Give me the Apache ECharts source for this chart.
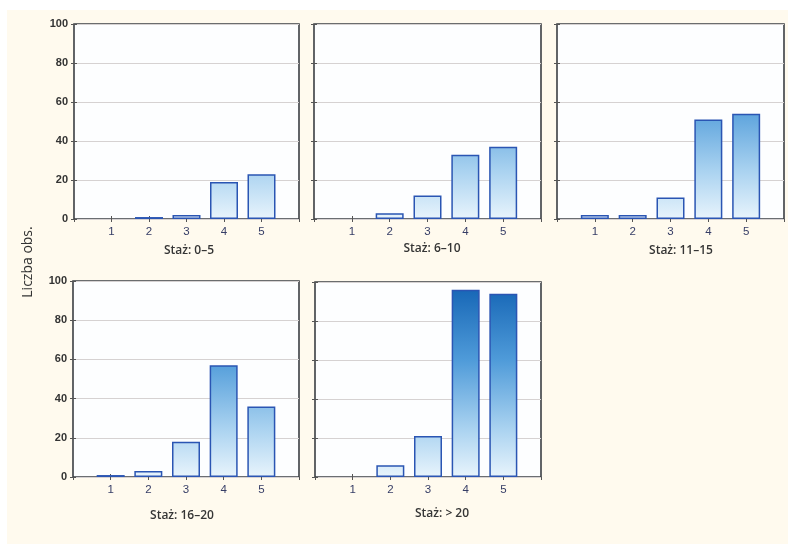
<!DOCTYPE html>
<html>
<head>
<meta charset="utf-8">
<script src="https://cdn.jsdelivr.net/npm/echarts@6/dist/echarts.min.js"></script>
<style>
  html, body { margin: 0; padding: 0; background: #ffffff; }
  #chart { width: 788px; height: 544px; }
</style>
</head>
<body>
<div id="chart"></div>
<script>
// Rating categories on the x axis of every panel
const categories = [1, 2, 3, 4, 5];
// Count ticks shared by every y axis
const yTicks = [0, 20, 40, 60, 80, 100];
// Panel captions (length of service groups)
const panelTitles = ['Staż: 0–5', 'Staż: 6–10', 'Staż: 11–15', 'Staż: 16–20', 'Staż: > 20'];
// Number of observations per rating, one array per group
const staz0to5 = [0, 1, 2, 19, 23];
const staz6to10 = [0, 3, 12, 33, 37];
const staz11to15 = [2, 2, 11, 51, 54];
const staz16to20 = [1, 3, 18, 57, 36];
const stazOver20 = [0, 6, 21, 96, 94];
const yAxisTitle = 'Liczba obs.';

const groups = [staz0to5, staz6to10, staz11to15, staz16to20, stazOver20];

// Panel boxes in pixels
const boxes = [
  { left: 74, top: 24, right: 299, bottom: 219, labels: true, tx: 189, ty: 251 },
  { left: 314, top: 24, right: 541, bottom: 219, labels: false, tx: 432, ty: 249 },
  { left: 557, top: 24, right: 784, bottom: 219, labels: false, tx: 681, ty: 251 },
  { left: 73, top: 281, right: 299, bottom: 477, labels: true, tx: 182, ty: 516 },
  { left: 315, top: 282, right: 541, bottom: 477, labels: false, tx: 442, ty: 514 }
];

const chart = echarts.init(document.getElementById('chart'), null, { renderer: 'canvas' });

const grids = [], xAxes = [], yAxes = [], series = [];
const xMin = 0, xMax = categories.length + 1;
const yMin = yTicks[0], yMax = yTicks[yTicks.length - 1], yStep = yTicks[1] - yTicks[0];
const tickStyle = { show: true, inside: true, length: 3, lineStyle: { color: '#555' } };

boxes.forEach((b, i) => {
  grids.push({
    left: b.left, top: b.top,
    width: b.right - b.left, height: b.bottom - b.top,
    show: true, backgroundColor: '#fdfeff',
    borderColor: '#3b3f44', borderWidth: 1.6
  });
  // bottom x axis with labels
  xAxes.push({
    type: 'value', gridIndex: i, position: 'bottom', min: xMin, max: xMax, interval: 1,
    axisLine: { show: false }, splitLine: { show: false },
    axisTick: tickStyle,
    axisLabel: {
      show: true, margin: 7, fontSize: 11.5, color: '#363d66',
      fontFamily: 'Liberation Sans, Arial, sans-serif',
      showMinLabel: false, showMaxLabel: false,
      formatter: v => (categories.indexOf(v) >= 0 ? String(v) : '')
    }
  });
  // top x axis: tick marks only
  xAxes.push({
    type: 'value', gridIndex: i, position: 'top', min: xMin, max: xMax, interval: 1,
    axisLine: { show: false }, splitLine: { show: false },
    axisTick: tickStyle, axisLabel: { show: false }
  });
  // left y axis
  yAxes.push({
    type: 'value', gridIndex: i, position: 'left', min: yMin, max: yMax, interval: yStep,
    axisLine: { show: false }, axisTick: tickStyle,
    splitLine: { show: true, lineStyle: { color: '#d6d2d2', width: 1 } },
    axisLabel: {
      show: b.labels, margin: 6, fontSize: 11, color: '#333', fontWeight: 'bold',
      fontFamily: 'Liberation Sans, Arial, sans-serif'
    }
  });
  // right y axis: tick marks only
  yAxes.push({
    type: 'value', gridIndex: i, position: 'right', min: yMin, max: yMax, interval: yStep,
    axisLine: { show: false }, splitLine: { show: false },
    axisTick: tickStyle, axisLabel: { show: false }
  });

  // gradient spans the whole plot height, so taller bars reach deeper blue
  const fill = new echarts.graphic.LinearGradient(0, b.top, 0, b.bottom, [
    { offset: 0, color: '#1262b3' },
    { offset: 0.4, color: '#4f9bd9' },
    { offset: 0.75, color: '#a9d2f0' },
    { offset: 1, color: '#e8f4fc' }
  ], true);

  series.push({
    type: 'bar',
    xAxisIndex: i * 2, yAxisIndex: i * 2,
    // empty categories get no outline
    data: categories.map((c, k) => {
      const v = groups[i][k];
      return v === 0 ? { value: [c, v], itemStyle: { borderWidth: 0, opacity: 0 } } : [c, v];
    }),
    barWidth: 28,
    itemStyle: { color: fill, borderColor: '#2a55b3', borderWidth: 1.5 },
    silent: true,
    animation: false
  });
});

const graphics = [
  // cream page background
  { type: 'rect', left: 7, top: 10, shape: { width: 781, height: 534 }, style: { fill: '#fffaee' }, z: -10, silent: true },
  {
    type: 'text', x: 28, y: 262, rotation: Math.PI / 2,
    style: {
      text: yAxisTitle, fill: '#333', font: '14px "Open Sans", "Liberation Sans", sans-serif',
      textAlign: 'center', textVerticalAlign: 'middle'
    }
  }
];
boxes.forEach((b, i) => {
  graphics.push({
    type: 'text', x: b.tx, y: b.ty,
    style: {
      text: panelTitles[i], fill: '#353535', font: '600 12px "Open Sans", "Liberation Sans", sans-serif',
      textAlign: 'center', textVerticalAlign: 'middle'
    }
  });
});

chart.setOption({
  animation: false,
  backgroundColor: '#ffffff',
  grid: grids,
  xAxis: xAxes,
  yAxis: yAxes,
  series: series,
  graphic: graphics
});
</script>
</body>
</html>
